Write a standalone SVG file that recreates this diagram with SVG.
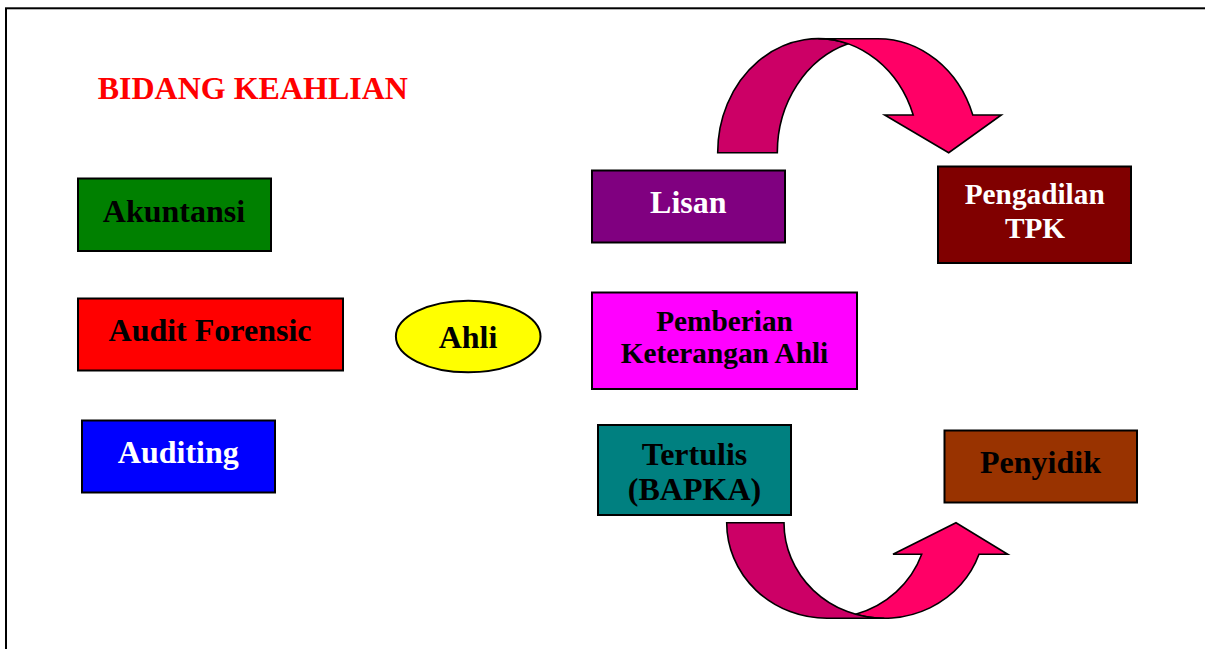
<svg xmlns="http://www.w3.org/2000/svg" width="1205" height="649" viewBox="0 0 1205 649">
  <style>
    .box { stroke: #000; stroke-width: 2; }
    .lbl { font-family: "Liberation Serif", "Times New Roman", serif; font-weight: bold; font-size: 32px; text-anchor: middle; }
    .sm { font-size: 29.3px; }
    .dark { fill: #000; }
    .light { fill: #fff; }
    .band-dark { fill: #CC0066; stroke: #000; stroke-width: 1.6; stroke-linejoin: miter; }
    .band-light { fill: #FF0066; stroke: #000; stroke-width: 1.6; stroke-linejoin: miter; }
  </style>

  <rect x="0" y="0" width="1205" height="649" fill="#fff"/>
  <!-- page frame -->
  <rect x="6" y="8.3" width="1300" height="700" fill="none" stroke="#000" stroke-width="2"/>

  <text x="97.7" y="99" font-family="Liberation Serif, Times New Roman, serif" font-weight="bold" font-size="32" fill="#FF0000">BIDANG KEAHLIAN</text>

  <g id="akuntansi">
    <rect class="box" x="78" y="178.5" width="193" height="72.5" fill="#008000"/>
    <text class="lbl dark" x="174" y="221.7">Akuntansi</text>
  </g>

  <g id="audit-forensic">
    <rect class="box" x="78" y="298.5" width="265" height="72" fill="#FF0000"/>
    <text class="lbl dark" x="210" y="341">Audit Forensic</text>
  </g>

  <g id="auditing">
    <rect class="box" x="82" y="420.5" width="193" height="72" fill="#0000FF"/>
    <text class="lbl light" x="178.3" y="462.7">Auditing</text>
  </g>

  <g id="ahli">
    <ellipse class="box" cx="468.2" cy="336.5" rx="72.3" ry="35.8" fill="#FFFF00"/>
    <text class="lbl dark" x="468" y="347.7">Ahli</text>
  </g>

  <g id="lisan">
    <rect class="box" x="592" y="170.5" width="193" height="72" fill="#800080"/>
    <text class="lbl light" x="688.3" y="212.7">Lisan</text>
  </g>

  <g id="pemberian">
    <rect class="box" x="592" y="292.5" width="265" height="96.5" fill="#FF00FF"/>
    <text class="lbl sm dark" x="724.5" y="331">Pemberian</text>
    <text class="lbl sm dark" x="724.5" y="363.3">Keterangan Ahli</text>
  </g>

  <g id="tertulis">
    <rect class="box" x="598" y="425" width="193" height="90" fill="#008080"/>
    <text class="lbl dark" x="694.5" y="465">Tertulis</text>
    <text class="lbl dark" x="694.5" y="499.5">(BAPKA)</text>
  </g>

  <g id="pengadilan">
    <rect class="box" x="938" y="166.5" width="193" height="96.5" fill="#800000"/>
    <text class="lbl sm light" x="1034.7" y="204">Pengadilan</text>
    <text class="lbl sm light" x="1035" y="238.3">TPK</text>
  </g>

  <g id="penyidik">
    <rect class="box" x="944.5" y="430.5" width="192.5" height="72" fill="#993300"/>
    <text class="lbl dark" x="1040.5" y="472.7">Penyidik</text>
  </g>

  <g id="connectors">
    <!-- curved arrow over the top: Lisan towards Pengadilan TPK -->
    <path class="band-dark" d="M 848.1 43.8 A 100.6 114 0 0 0 777.3 152.7 L 717.7 152.7 A 100.6 114 0 0 1 848.1 43.8 Z"/>
    <path class="band-light" d="M 948.7 152.7 L 884.7 115 L 913.2 115 A 100.6 114 0 0 0 818.3 38.7 L 877.9 38.7 A 100.6 114 0 0 1 972.8 115 L 1001.3 115 Z"/>

    <!-- curved arrow underneath: Tertulis towards Penyidik -->
    <path class="band-light" d="M 956 522.7 L 1007.7 554.3 L 979 554.3 A 100.3 95.6 0 0 1 855.65 614.3 A 100.3 95.6 0 0 0 921.7 554.3 L 893 554.3 Z"/>
    <path class="band-dark" d="M 726.7 522.7 A 100.3 95.6 0 0 0 827 618.3 L 884.3 618.3 A 100.3 95.6 0 0 1 784 522.7 Z"/>
  </g>
</svg>
